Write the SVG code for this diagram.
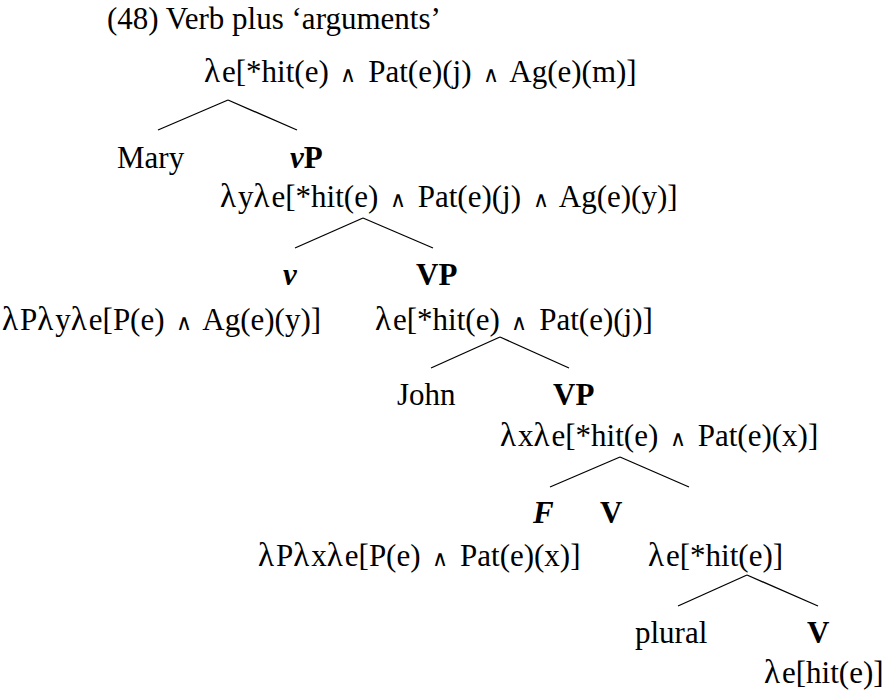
<svg xmlns="http://www.w3.org/2000/svg" width="886" height="691" viewBox="0 0 886 691">
<style>
text{font-family:"Liberation Serif","Times New Roman",serif;font-size:31px;fill:#000}
.b{font-weight:bold}
.bi{font-weight:bold;font-style:italic}
.w{font-family:"DejaVu Sans",sans-serif;font-size:22px;font-weight:200}
.l{font-size:33px;letter-spacing:2px}
#connectors line{stroke:#000;stroke-width:1.3}
</style>
<rect width="886" height="691" fill="#fff"/>
<text id="title" x="107" y="29">(48) Verb plus ‘arguments’</text>
<g id="connectors">
<line x1="228" y1="100" x2="158" y2="130"/><line x1="228" y1="100" x2="297" y2="130"/>
<line x1="363" y1="218" x2="295" y2="248"/><line x1="363" y1="218" x2="433" y2="248"/>
<line x1="500" y1="337" x2="431" y2="368"/><line x1="500" y1="337" x2="569" y2="368"/>
<line x1="620" y1="457" x2="550" y2="487"/><line x1="620" y1="457" x2="689" y2="487"/>
<line x1="747" y1="575" x2="678" y2="606"/><line x1="747" y1="575" x2="818" y2="606"/>
</g>
<g id="root"><text x="204" y="82"><tspan class="l">λ</tspan>e[*hit(e) <tspan class="w" dx="4">∧</tspan><tspan dx="4"> Pat(e)(j) </tspan><tspan class="w" dx="4">∧</tspan><tspan dx="4"> Ag(e)(m)]</tspan></text></g>
<g id="mary"><text x="117" y="168">Mary</text></g>
<g id="vP"><text class="bi" x="290" y="168">v<tspan font-style="normal">P</tspan></text><text x="220" y="207"><tspan class="l">λ</tspan>y<tspan class="l">λ</tspan>e[*hit(e) <tspan class="w" dx="4">∧</tspan><tspan dx="4"> Pat(e)(j) </tspan><tspan class="w" dx="4">∧</tspan><tspan dx="4"> Ag(e)(y)]</tspan></text></g>
<g id="v"><text class="bi" x="283" y="285">v</text><text x="2" y="330"><tspan class="l">λ</tspan>P<tspan class="l">λ</tspan>y<tspan class="l">λ</tspan>e[P(e) <tspan class="w" dx="4">∧</tspan><tspan dx="4"> Ag(e)(y)]</tspan></text></g>
<g id="VP1"><text class="b" x="416" y="285">VP</text><text x="375" y="330"><tspan class="l">λ</tspan>e[*hit(e) <tspan class="w" dx="4">∧</tspan><tspan dx="4"> Pat(e)(j)]</tspan></text></g>
<g id="john"><text x="397" y="405">John</text></g>
<g id="VP2"><text class="b" x="553" y="405">VP</text><text x="500" y="446"><tspan class="l">λ</tspan>x<tspan class="l">λ</tspan>e[*hit(e) <tspan class="w" dx="4">∧</tspan><tspan dx="4"> Pat(e)(x)]</tspan></text></g>
<g id="F"><text class="bi" x="533" y="523">F</text><text x="258" y="566"><tspan class="l">λ</tspan>P<tspan class="l">λ</tspan>x<tspan class="l">λ</tspan>e[P(e) <tspan class="w" dx="4">∧</tspan><tspan dx="4"> Pat(e)(x)]</tspan></text></g>
<g id="V1"><text class="b" x="600" y="523">V</text><text x="648" y="566"><tspan class="l">λ</tspan>e[*hit(e)]</text></g>
<g id="plural"><text x="635" y="643">plural</text></g>
<g id="V2"><text class="b" x="807" y="643">V</text><text x="764" y="683"><tspan class="l">λ</tspan>e[hit(e)]</text></g>
</svg>
